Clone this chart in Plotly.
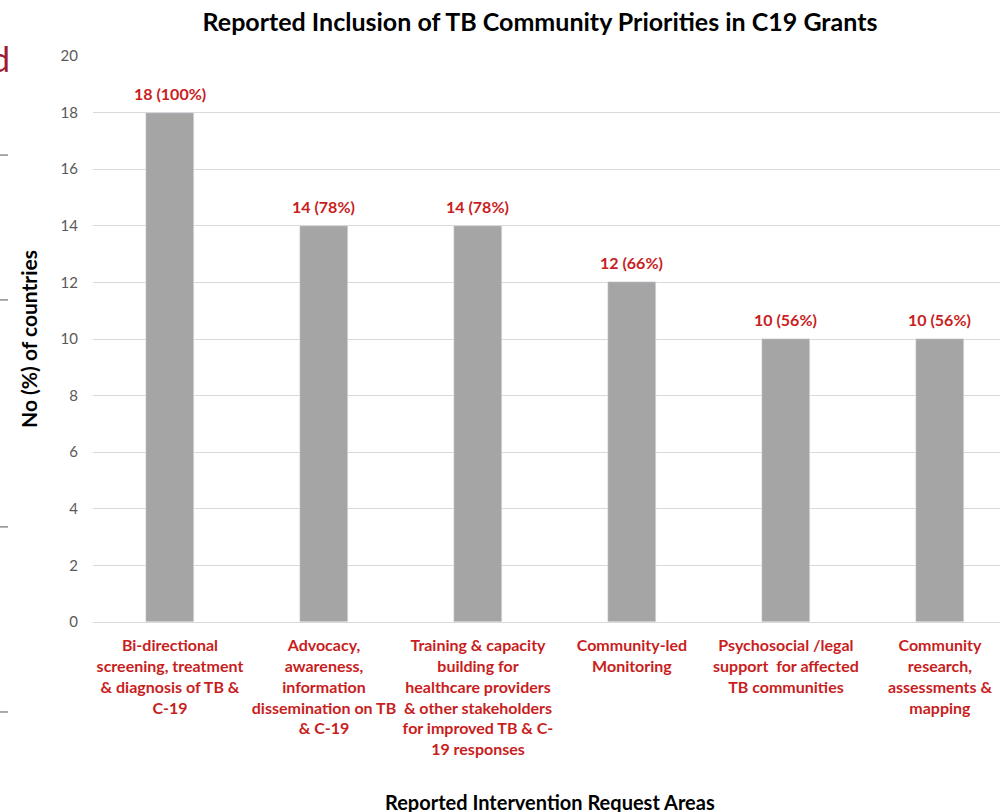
import plotly.graph_objects as go

categories = [
    "Bi-directional<br>screening, treatment<br>& diagnosis of TB &<br>C-19",
    "Advocacy,<br>awareness,<br>information<br>dissemination on TB<br>& C-19",
    "Training & capacity<br>building for<br>healthcare providers<br>& other stakeholders<br>for improved TB & C-<br>19 responses",
    "Community-led<br>Monitoring",
    "Psychosocial /legal<br>support  for affected<br>TB communities",
    "Community<br>research,<br>assessments &<br>mapping",
]
values = [18, 14, 14, 12, 10, 10]
value_labels = ["18 (100%)", "14 (78%)", "14 (78%)", "12 (66%)", "10 (56%)", "10 (56%)"]
y_ticks = [0, 2, 4, 6, 8, 10, 12, 14, 16, 18, 20]

RED = "#C81E1E"
FONT = "Lato"

xs = list(range(len(categories)))

fig = go.Figure()
fig.add_trace(go.Bar(
    x=xs,
    y=values,
    width=0.31,
    marker=dict(color="#A5A5A5"),
    hoverinfo="skip",
))

for xi, v, lab in zip(xs, values, value_labels):
    fig.add_annotation(
        x=xi, y=v, text=f"<b>{lab}</b>", showarrow=False,
        xanchor="center", yanchor="bottom", yshift=8,
        font=dict(family=FONT, size=16, color=RED),
    )

fig.update_layout(
    width=1000, height=812,
    margin=dict(l=93, r=0, t=56, b=190),
    paper_bgcolor="white", plot_bgcolor="white",
    showlegend=False,
    bargap=0,
    title=dict(
        text="<b>Reported Inclusion of TB Community Priorities in C19 Grants</b>",
        xref="container", x=0.54, xanchor="center",
        yref="container", y=0.972, yanchor="middle",
        font=dict(family=FONT, size=25, color="#000000"),
    ),
    xaxis=dict(
        tickmode="array",
        tickvals=xs,
        ticktext=categories,
        range=[-0.5, 5.39],
        tickfont=dict(family=FONT, size=16, color=RED, weight="bold"),
        showgrid=False, zeroline=False, ticks="", tickangle=0,
        ticklabelstandoff=9,
        showline=True, linecolor="#D9D9D9", linewidth=1,
    ),
    yaxis=dict(
        range=[0, 20],
        tickvals=y_ticks,
        tickfont=dict(family=FONT, size=15, color="#595959"),
        gridcolor="#D9D9D9", gridwidth=1,
        zeroline=False, ticks="", ticklen=0,
        ticklabelstandoff=14,
        title=dict(text="<b>No (%) of countries</b>",
                   font=dict(family=FONT, size=21, color="#000000"), standoff=17),
    ),
)

fig.add_annotation(
    text="<b>Reported Intervention Request Areas</b>",
    xref="paper", yref="paper", x=0.504, y=-0.318, xanchor="center", yanchor="middle",
    showarrow=False, font=dict(family=FONT, size=20, color="#000000"),
)

# left-edge fragments present in the source image
fig.add_annotation(text="d", xref="paper", yref="paper", x=(12 - 93) / 907, y=(622 - 58) / 566,
                   xanchor="right", yanchor="middle", showarrow=False,
                   font=dict(family=FONT, size=34, color="#9E1B32"))
for yy in [0.825, 0.569, 0.168, -0.159]:
    fig.add_shape(type="line", xref="paper", yref="paper", x0=-0.1025, x1=-0.0937,
                  y0=yy, y1=yy, line=dict(color="#555555", width=1))

fig.write_html("out.html", config={"displayModeBar": False},
               post_script="document.body.style.margin='0';")
